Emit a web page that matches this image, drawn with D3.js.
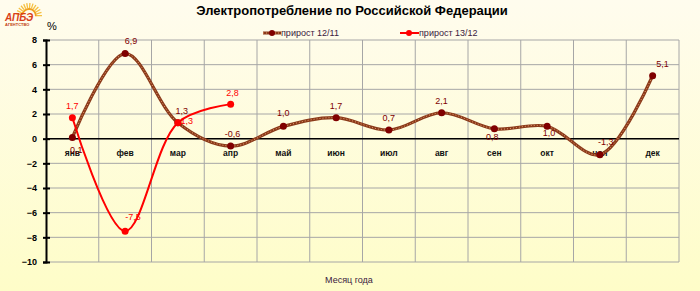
<!DOCTYPE html>
<html>
<head>
<meta charset="utf-8">
<script src="https://cdn.jsdelivr.net/npm/d3@7"></script>
<style>
  body { margin: 0; }
  svg { display: block; font-family: Arial, "Liberation Sans", sans-serif; }
</style>
</head>
<body>
<div id="chart"></div>
<script>
// data
let months = ['янв', 'фев', 'мар', 'апр', 'май', 'июн', 'июл', 'авг', 'сен', 'окт', 'ноя', 'дек'];
let growth1211 = [0.1, 6.9, 1.3, -0.6, 1.0, 1.7, 0.7, 2.1, 0.8, 1.0, -1.3, 5.1];
let growth1312 = [1.7, -7.5, 1.3, 2.8];
let yTicks = [-10, -8, -6, -4, -2, 0, 2, 4, 6, 8];
let seriesNames = ['прирост 12/11', 'прирост 13/12'];

// label offsets (dx, dy) relative to the point
let off1 = [[4, 12], [6, -13], [4, -12], [2, -12], [0, -13], [0, -12], [0, -12], [0, -12], [-2, 8], [2, 7], [6, -13], [10, -12]];
let off2 = [[0, -12], [8, -14], [9, -2], [2, -11]];

let W = 700, H = 291;
let margin = { top: 40, right: 21, bottom: 29, left: 46 };

let svg = d3.select('#chart')
    .append('svg')
    .attr('width', W)
    .attr('height', H);

let defs = svg.append('defs');
let grad = defs.append('linearGradient').attr('id', 'bg').attr('x1', 0).attr('y1', 0).attr('x2', 0).attr('y2', 1);
grad.append('stop').attr('offset', '0%').attr('stop-color', '#fffcee');
grad.append('stop').attr('offset', '100%').attr('stop-color', '#fefdc8');

svg.append('rect').attr('width', W).attr('height', H).attr('fill', 'url(#bg)');

let x = d3.scaleBand().domain(months).range([margin.left, W - margin.right]);
let y = d3.scaleLinear().domain([-10, 8]).range([H - margin.bottom, margin.top]);
let cx = function (d, i) { return x(months[i]) + x.bandwidth() / 2; };

// grid
svg.append('g')
    .selectAll('line')
    .data(yTicks)
    .enter()
    .append('line')
    .attr('x1', margin.left).attr('x2', W - margin.right)
    .attr('y1', function (d) { return y(d); }).attr('y2', function (d) { return y(d); })
    .attr('stroke', '#a6a6a6').attr('stroke-width', 1);

svg.append('g')
    .selectAll('line')
    .data(months)
    .enter()
    .append('line')
    .attr('x1', function (d) { return x(d) + x.bandwidth(); })
    .attr('x2', function (d) { return x(d) + x.bandwidth(); })
    .attr('y1', margin.top).attr('y2', H - margin.bottom)
    .attr('stroke', '#a6a6a6').attr('stroke-width', 1);

// zero line
svg.append('line')
    .attr('x1', margin.left).attr('x2', W - margin.right)
    .attr('y1', y(0)).attr('y2', y(0))
    .attr('stroke', '#000').attr('stroke-width', 1.5);

// y axis
let yAxis = svg.append('g')
    .attr('transform', 'translate(' + margin.left + ',0)')
    .call(d3.axisLeft(y).tickValues(yTicks).tickSize(3).tickFormat(d3.format('d')));
yAxis.select('.domain').attr('stroke', '#000').attr('stroke-width', 2);
yAxis.selectAll('.tick line').attr('stroke', '#000').attr('stroke-width', 2).attr('x2', 4).attr('x1', -3);
yAxis.selectAll('.tick text')
    .attr('x', -9)
    .style('font-size', '9px')
    .style('font-weight', 'bold')
    .style('font-family', 'Arial, "Liberation Sans", sans-serif')
    .attr('fill', '#000');

// category labels
svg.append('g')
    .selectAll('text')
    .data(months)
    .enter()
    .append('text')
    .attr('x', function (d) { return x(d) + x.bandwidth() / 2; })
    .attr('y', y(0) + 17)
    .attr('text-anchor', 'middle')
    .style('font-size', '8.5px')
    .style('font-weight', 'bold')
    .attr('fill', '#111')
    .text(function (d) { return d; });

let line = d3.line()
    .x(cx)
    .y(function (d) { return y(d); })
    .curve(d3.curveCatmullRom.alpha(0.5));

let fmt = function (v) { return v.toFixed(1).replace('.', ','); };

// series 12/11
svg.append('path')
    .datum(growth1211)
    .attr('d', line)
    .attr('fill', 'none')
    .attr('stroke', '#8b3a1a')
    .attr('stroke-width', 3.2);
svg.append('path')
    .datum(growth1211)
    .attr('d', line)
    .attr('fill', 'none')
    .attr('stroke', '#e8a070')
    .attr('stroke-width', 1)
    .attr('stroke-dasharray', '1,2');

// series 13/12
svg.append('path')
    .datum(growth1312)
    .attr('d', line)
    .attr('fill', 'none')
    .attr('stroke', '#ff0000')
    .attr('stroke-width', 2);

svg.append('g')
    .selectAll('circle')
    .data(growth1211)
    .enter()
    .append('circle')
    .attr('cx', cx)
    .attr('cy', function (d) { return y(d); })
    .attr('r', 3.5)
    .attr('fill', '#800000');

svg.append('g')
    .selectAll('circle')
    .data(growth1312)
    .enter()
    .append('circle')
    .attr('cx', cx)
    .attr('cy', function (d) { return y(d); })
    .attr('r', 3.5)
    .attr('fill', '#ff0000');

// data labels
svg.append('g')
    .selectAll('text')
    .data(growth1211)
    .enter()
    .append('text')
    .attr('x', function (d, i) { return cx(d, i) + off1[i][0]; })
    .attr('y', function (d, i) { return y(d) + off1[i][1]; })
    .attr('dy', '0.35em')
    .attr('text-anchor', 'middle')
    .style('font-size', '9px')
    .attr('fill', '#800000')
    .text(fmt);

svg.append('g')
    .selectAll('text')
    .data(growth1312)
    .enter()
    .append('text')
    .attr('x', function (d, i) { return cx(d, i) + off2[i][0]; })
    .attr('y', function (d, i) { return y(d) + off2[i][1]; })
    .attr('dy', '0.35em')
    .attr('text-anchor', 'middle')
    .style('font-size', '9px')
    .attr('fill', '#ff0000')
    .text(fmt);

// title
svg.append('text')
    .attr('x', 352).attr('y', 15)
    .attr('text-anchor', 'middle')
    .style('font-size', '13px')
    .style('font-weight', 'bold')
    .attr('fill', '#000')
    .text('Электропотребление по Российской Федерации');

// legend
let leg = svg.append('g').attr('transform', 'translate(263,33)');
leg.append('line').attr('x1', 0).attr('x2', 18).attr('y1', 0).attr('y2', 0).attr('stroke', '#8b3a1a').attr('stroke-width', 3);
leg.append('line').attr('x1', 0).attr('x2', 18).attr('y1', 0).attr('y2', 0).attr('stroke', '#e8a070').attr('stroke-width', 1).attr('stroke-dasharray', '1,2');
leg.append('circle').attr('cx', 9).attr('r', 3).attr('fill', '#800000');
leg.append('text').attr('x', 18).attr('dy', '0.35em').style('font-size', '9px').attr('fill', '#3a2040').text(seriesNames[0]);
leg.append('line').attr('x1', 137).attr('x2', 156).attr('y1', 0).attr('y2', 0).attr('stroke', '#ff0000').attr('stroke-width', 2);
leg.append('circle').attr('cx', 146).attr('r', 3).attr('fill', '#ff0000');
leg.append('text').attr('x', 156).attr('dy', '0.35em').style('font-size', '9px').attr('fill', '#3a2040').text(seriesNames[1]);

// unit and axis title
svg.append('text').attr('x', 47).attr('y', 30).style('font-size', '11px').attr('fill', '#000').text('%');
svg.append('text').attr('x', 349).attr('y', 283).attr('text-anchor', 'middle').style('font-size', '9px').attr('fill', '#3a2040').text('Месяц года');

// logo
let logo = svg.append('g');
let rays = d3.range(-80, 100, 14);
logo.append('g')
    .attr('transform', 'translate(29,16)')
    .selectAll('line')
    .data(rays)
    .enter()
    .append('line')
    .attr('x1', function (a) { return 8 * Math.sin(a * Math.PI / 180); })
    .attr('y1', function (a) { return -8 * Math.cos(a * Math.PI / 180); })
    .attr('x2', function (a) { return 13 * Math.sin(a * Math.PI / 180); })
    .attr('y2', function (a) { return -13 * Math.cos(a * Math.PI / 180); })
    .attr('stroke', '#f5c040')
    .attr('stroke-width', 1.3);
logo.append('path')
    .attr('d', d3.arc()({ innerRadius: 6, outerRadius: 8, startAngle: -1.4, endAngle: 1.6 }))
    .attr('transform', 'translate(29,16)')
    .attr('fill', '#f0a020');
logo.append('text').attr('x', 5).attr('y', 21).style('font-size', '10px').style('font-weight', 'bold').style('font-style', 'italic').attr('fill', '#d84018').text('АПБЭ');
logo.append('text').attr('x', 5).attr('y', 26).style('font-size', '4px').style('font-weight', 'bold').attr('fill', '#c04010').text('АГЕНТСТВО');
</script>
</body>
</html>
